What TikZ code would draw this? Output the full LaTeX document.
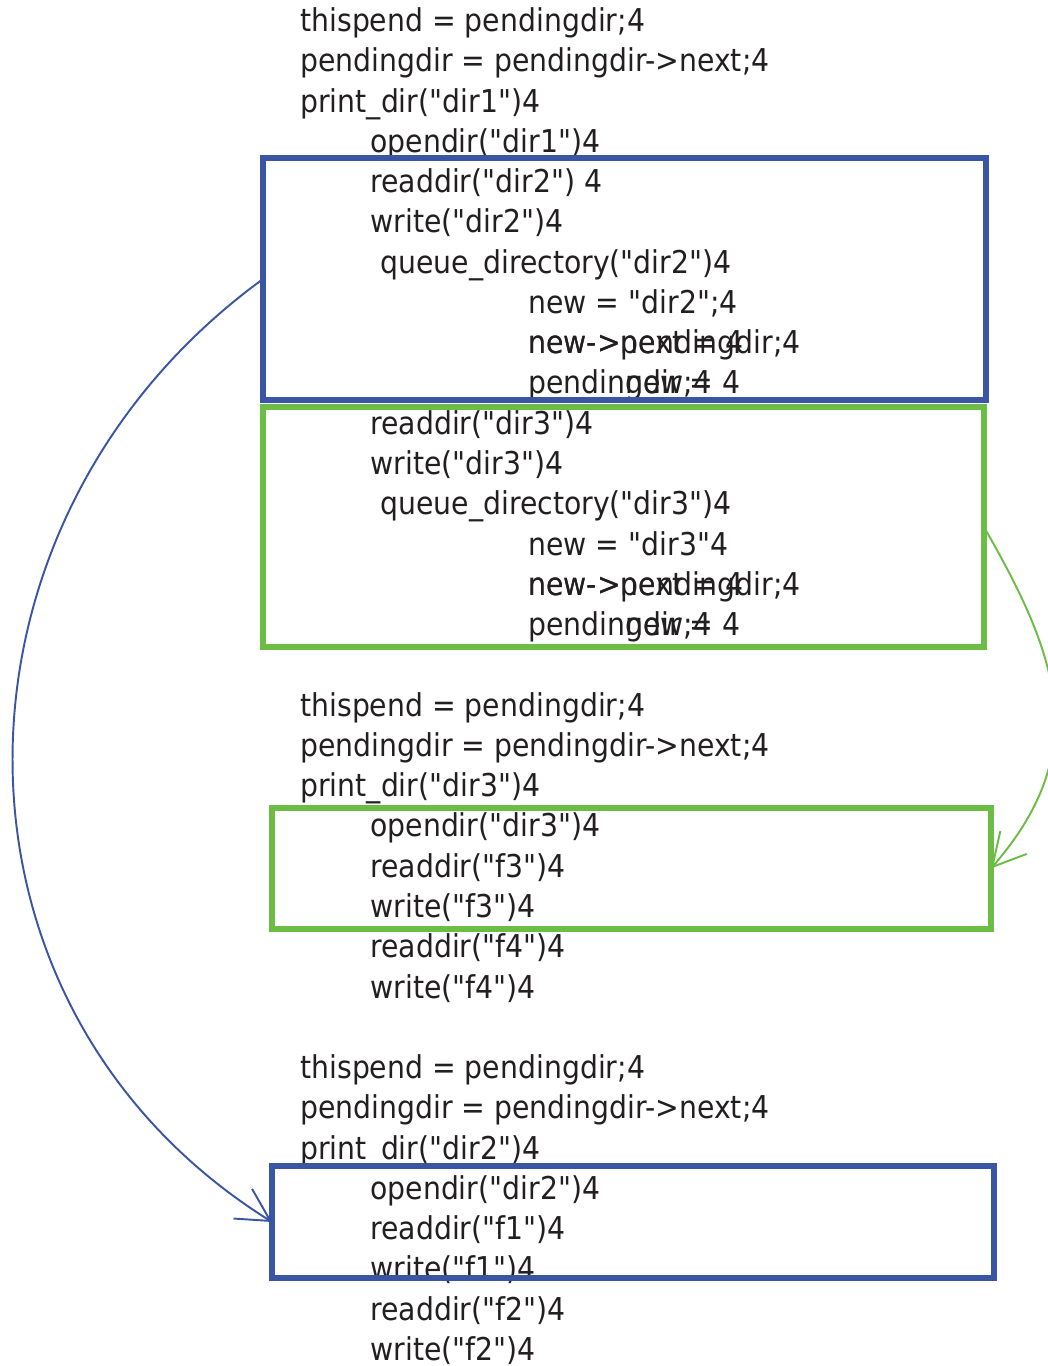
\documentclass[tikz,border=0pt]{standalone}
\usepackage{fontspec}
\setmainfont{DejaVu Sans}[FakeStretch=0.9,Ligatures=TeXOff]
\usetikzlibrary{arrows.meta,positioning}
\definecolor{dirblue}{RGB}{59,85,165}
\definecolor{dirgreen}{RGB}{107,189,70}
\definecolor{codegray}{RGB}{35,31,32}

\begin{document}
\begin{tikzpicture}[x=0.02cm, y=-0.02cm,
    code/.style={anchor=base west, inner sep=0pt, yshift=-0.05cm, text=codegray, font=\fontsize{17.9pt}{22pt}\selectfont},
    bluebox/.style={draw=dirblue, line width=3.7pt, inner sep=0pt, outer sep=0pt},
    greenbox/.style={draw=dirgreen, line width=3.1pt, inner sep=0pt, outer sep=0pt},
    jump/.style={line width=1.1pt, -{Straight Barb[length=0.65cm, width=0.7cm]}}]
    \useasboundingbox (0,0) rectangle (1048,1366);

    % first pass: dir1
    \node[code] (this1) at (300,29) {thispend = pendingdir;4};
    \node[code] (next1) at (300,69.3) {pendingdir = pendingdir->next;4};
    \node[code] (print1) at (300,109.5) {print\_dir("dir1")4};
    \node[code] (open1) at (370,149.8) {opendir("dir1")4};
    \node[code] (read2) at (370,190.1) {readdir("dir2") 4};
    \node[code] (write2) at (370,230.4) {write("dir2")4};
    \node[code] (queue2) at (380,270.6) {queue\_directory("dir2")4};
    \node[code] (new2) at (528,310.9) {new = "dir2";4};
    \node[code] (link2a) at (528,351.2) {new->next = 4};
    \node[code] (link2b) at (528,351.2) {new->pendingdir;4};
    \node[code] (pend2a) at (528,391.4) {pendingdir = 4};
    \node[code] (pend2b) at (528,391.4) {\phantom{pendin}new;4};
    \node[code] (read3) at (370,431.7) {readdir("dir3")4};
    \node[code] (write3) at (370,472) {write("dir3")4};
    \node[code] (queue3) at (380,512.2) {queue\_directory("dir3")4};
    \node[code] (new3) at (528,552.5) {new = "dir3"4};
    \node[code] (link3a) at (528,592.8) {new->next = 4};
    \node[code] (link3b) at (528,592.8) {new->pendingdir;4};
    \node[code] (pend3a) at (528,633.1) {pendingdir = 4};
    \node[code] (pend3b) at (528,633.1) {\phantom{pendin}new;4};

    % second pass: dir3
    \node[code] (this3) at (300,713.6) {thispend = pendingdir;4};
    \node[code] (next3) at (300,753.9) {pendingdir = pendingdir->next;4};
    \node[code] (print3) at (300,794.1) {print\_dir("dir3")4};
    \node[code] (open3) at (370,834.4) {opendir("dir3")4};
    \node[code] (readf3) at (370,874.7) {readdir("f3")4};
    \node[code] (writef3) at (370,915) {write("f3")4};
    \node[code] (readf4) at (370,955.2) {readdir("f4")4};
    \node[code] (writef4) at (370,995.5) {write("f4")4};

    % third pass: dir2
    \node[code] (this2) at (300,1076) {thispend = pendingdir;4};
    \node[code] (next2) at (300,1116.3) {pendingdir = pendingdir->next;4};
    \node[code] (print2) at (300,1156.6) {print\_dir("dir2")4};
    \node[code] (open2) at (370,1196.8) {opendir("dir2")4};
    \node[code] (readf1) at (370,1237.1) {readdir("f1")4};
    \node[code] (writef1) at (370,1277.4) {write("f1")4};
    \node[code] (readf2) at (370,1317.6) {readdir("f2")4};
    \node[code] (writef2) at (370,1357.9) {write("f2")4};

    % boxes
    \node[bluebox, minimum width=14.46cm, minimum height=4.84cm] (dir2q) at (624.5,279) {};
    \node[greenbox, minimum width=14.42cm, minimum height=4.8cm] (dir3q) at (623.5,527) {};
    \node[greenbox, minimum width=14.38cm, minimum height=2.42cm] (dir3o) at (631.5,868.5) {};
    \node[bluebox, minimum width=14.44cm, minimum height=2.24cm] (dir2o) at (633,1222) {};

    \draw[jump, dirblue] (dir2q.west) .. controls +(216:8.2cm) and +(148:8.2cm) .. (dir2o.west);
    \draw[jump, dirgreen] (dir3q.east) .. controls +(-60:3.06cm) and +(49:3.06cm) .. (dir3o.east);
\end{tikzpicture}
\end{document}
